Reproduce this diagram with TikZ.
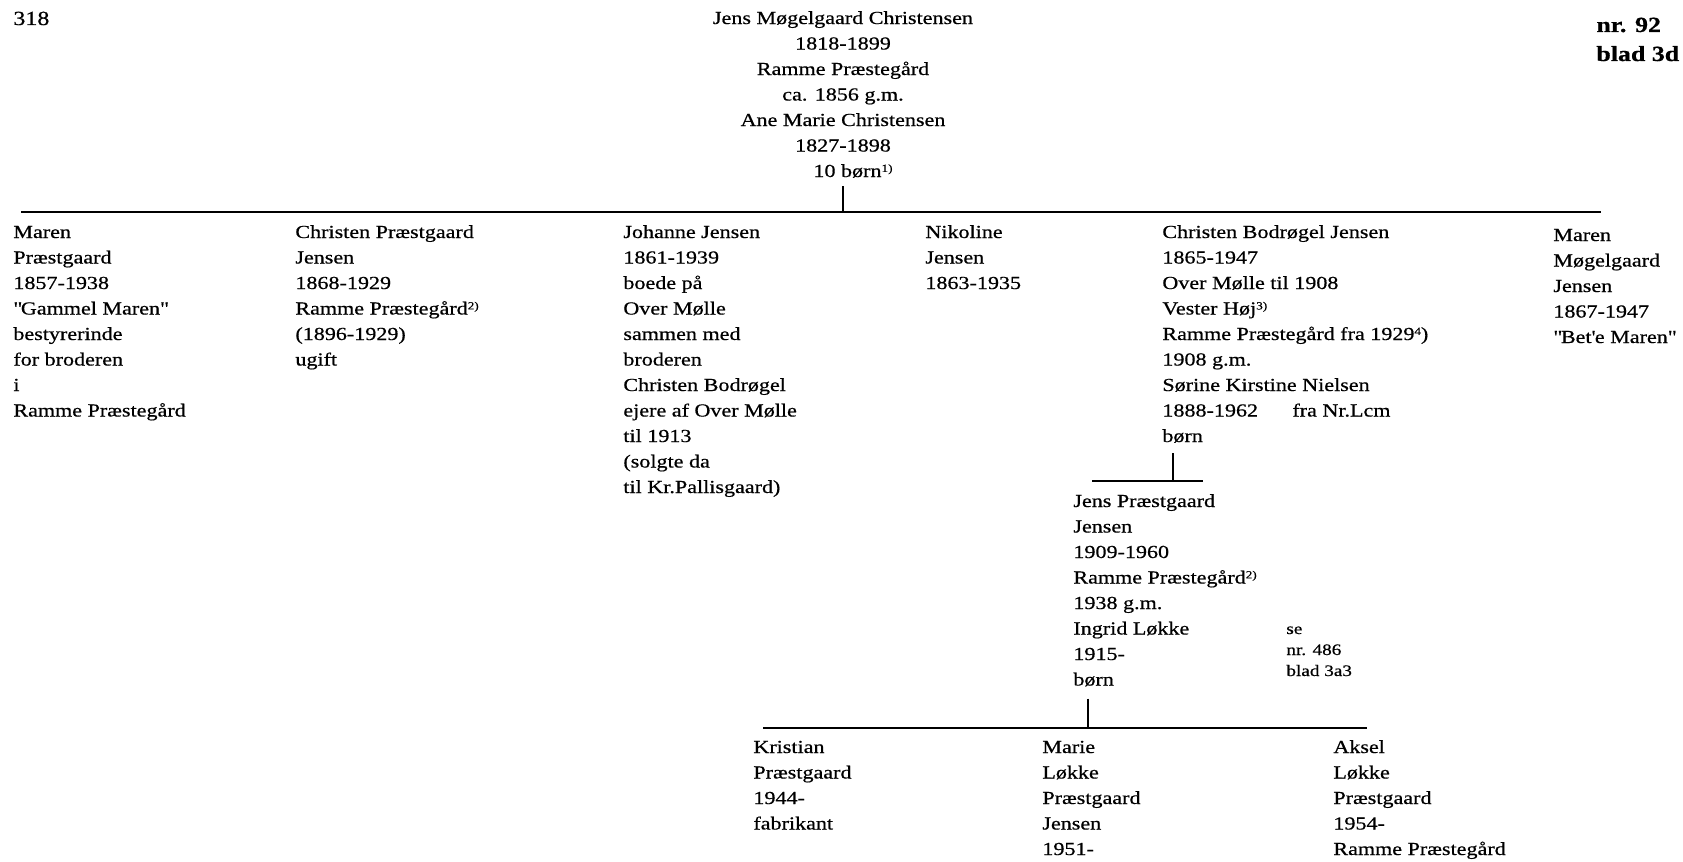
\documentclass[tikz,border=0pt]{standalone}
\usepackage{fontspec}
\setmainfont[FakeStretch=1.2, FakeBold=0.6]{Liberation Serif}
\usepackage{tikz}
\usetikzlibrary{calc}

\newcommand{\persfont}{\fontsize{9.2}{12.75}\selectfont}
\newcommand{\notefont}{\fontsize{8}{10.5}\selectfont}
\newcommand{\supsmall}[1]{\raisebox{0.6ex}{\fontsize{5.5}{6}\selectfont #1}}
\newcommand{\fnmark}[1]{\supsmall{#1)}}

\begin{document}
\begin{tikzpicture}[x=0.5pt, y=-0.5pt,
    % anker = grundlinien af sidste linje
    person/.style={anchor=base west, inner sep=0pt, align=left, font=\persfont},
    link/.style={line width=1.2pt}]
    \useasboundingbox (0,0) rectangle (1683,862);

    % sidehoved
    \node[anchor=base west, inner sep=0pt, font=\fontsize{10}{12}\selectfont] (page) at (13,25) {318};
    \node[anchor=base west, inner sep=0pt, align=left, font=\fontsize{10.8}{14.5}\selectfont\bfseries] (ref) at (1596,61) {nr. 92\\blad 3d};

    % forældre
    \node[person, anchor=base, align=center] (parents) at (843,177)
        {Jens Møgelgaard Christensen\\1818-1899\\Ramme Præstegård\\ca. 1856 g.m.\\Ane Marie Christensen\\1827-1898\\\hspace*{10pt}10 børn\fnmark{1}};

    \coordinate (barL) at (21,212);
    \coordinate (barR) at (1601,212);
    \draw[link] (barL) -- (barR);
    \draw[link, shorten <=4pt] (parents.south) -- (parents.south |- barL);

    % børn
    \node[person] (maren) at (13,416.5) {Maren\\Præstgaard\\1857-1938\\\textquotedbl Gammel Maren\textquotedbl\\bestyrerinde\\for broderen\\i\\Ramme Præstegård};
    \node[person] (christenP) at (295,365.5) {Christen Præstgaard\\Jensen\\1868-1929\\Ramme Præstegård\fnmark{2}\\(1896-1929)\\ugift};
    \node[person] (johanne) at (623,493) {Johanne Jensen\\1861-1939\\boede på\\Over Mølle\\sammen med\\broderen\\Christen Bodrøgel\\ejere af Over Mølle\\til 1913\\(solgte da\\til Kr.Pallisgaard)};
    \node[person] (nikoline) at (925,289) {Nikoline\\Jensen\\1863-1935};
    \node[person] (christenB) at (1162,442) {Christen Bodrøgel Jensen\\1865-1947\\Over Mølle til 1908\\Vester Høj\fnmark{3}\\Ramme Præstegård fra 1929\supsmall{4})\\1908 g.m.\\Sørine Kirstine Nielsen\\1888-1962\\børn};
    \node[person] (fra) at (1292,416.5) {fra Nr.Lcm};
    \node[person] (marenM) at (1553,343) {Maren\\Møgelgaard\\Jensen\\1867-1947\\\textquotedbl Bet\textquotesingle e Maren\textquotedbl};

    \coordinate (bar2L) at (1092,481);
    \coordinate (bar2R) at (1203,481);
    \coordinate (drop2) at (1173,481);
    \draw[link] (bar2L) -- (bar2R);
    \draw[link, shorten <=5pt] (drop2 |- christenB.south) -- (drop2);

    % næste led
    \node[person] (jensP) at (1073,685.5) {Jens Præstgaard\\Jensen\\1909-1960\\Ramme Præstegård\fnmark{2}\\1938 g.m.\\Ingrid Løkke\\1915-\\børn};
    \node[person, font=\notefont] (seref) at (1286,676) {se\\nr. 486\\blad 3a3};

    \coordinate (bar3L) at (763,728);
    \coordinate (bar3R) at (1367,728);
    \coordinate (drop3) at (1088,728);
    \draw[link] (bar3L) -- (bar3R);
    \draw[link, shorten <=6pt] (drop3 |- jensP.south) -- (drop3);

    \node[person] (kristian) at (753,829.5) {Kristian\\Præstgaard\\1944-\\fabrikant};
    \node[person] (marie) at (1042,855) {Marie\\Løkke\\Præstgaard\\Jensen\\1951-};
    \node[person] (aksel) at (1333,855) {Aksel\\Løkke\\Præstgaard\\1954-\\Ramme Præstegård};
\end{tikzpicture}
\end{document}
